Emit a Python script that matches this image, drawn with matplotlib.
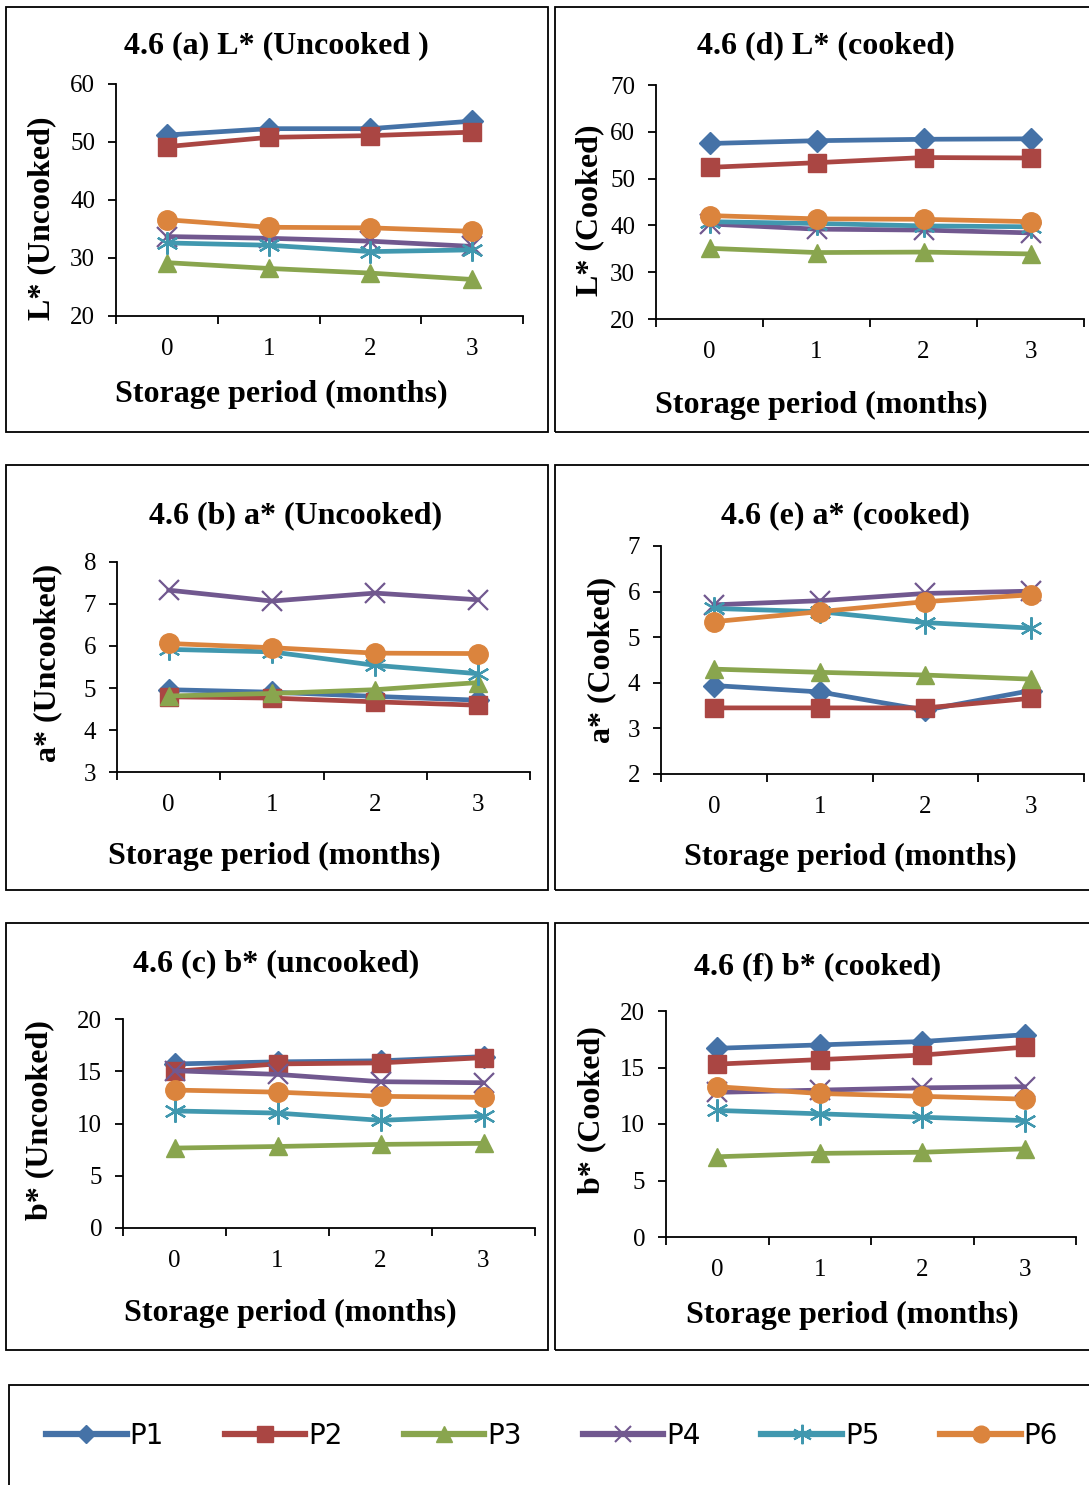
import numpy as np
import matplotlib
matplotlib.use("Agg")
import matplotlib.pyplot as plt
from matplotlib.patches import Rectangle
from matplotlib.lines import Line2D

# storage period (months)
months = [0, 1, 2, 3]
series = ["P1", "P2", "P3", "P4", "P5", "P6"]

# 4.6 (a) L* uncooked
L_unc = {
    "P1": [51.2, 52.3, 52.3, 53.6],
    "P2": [49.2, 50.8, 51.1, 51.7],
    "P3": [29.2, 28.2, 27.4, 26.3],
    "P4": [33.7, 33.4, 32.9, 32.0],
    "P5": [32.6, 32.2, 31.1, 31.4],
    "P6": [36.6, 35.3, 35.2, 34.6],
}
# 4.6 (b) a* uncooked
a_unc = {
    "P1": [4.96, 4.90, 4.80, 4.71],
    "P2": [4.79, 4.76, 4.67, 4.59],
    "P3": [4.81, 4.87, 4.96, 5.13],
    "P4": [7.33, 7.07, 7.26, 7.10],
    "P5": [5.92, 5.86, 5.54, 5.34],
    "P6": [6.06, 5.96, 5.83, 5.82],
}
# 4.6 (c) b* uncooked
b_unc = {
    "P1": [15.7, 15.9, 16.0, 16.4],
    "P2": [15.0, 15.7, 15.8, 16.3],
    "P3": [7.65, 7.8, 8.0, 8.1],
    "P4": [15.05, 14.7, 14.0, 13.9],
    "P5": [11.2, 11.0, 10.3, 10.7],
    "P6": [13.2, 13.0, 12.6, 12.5],
}
# 4.6 (d) L* cooked
L_ck = {
    "P1": [57.5, 58.1, 58.4, 58.5],
    "P2": [52.4, 53.4, 54.5, 54.4],
    "P3": [35.1, 34.2, 34.3, 33.9],
    "P4": [40.3, 39.2, 39.0, 38.4],
    "P5": [40.8, 40.4, 39.9, 39.7],
    "P6": [42.1, 41.4, 41.3, 40.8],
}
# 4.6 (e) a* cooked
a_ck = {
    "P1": [3.94, 3.80, 3.40, 3.83],
    "P2": [3.45, 3.45, 3.45, 3.66],
    "P3": [4.30, 4.23, 4.17, 4.08],
    "P4": [5.71, 5.80, 5.96, 6.01],
    "P5": [5.63, 5.56, 5.32, 5.20],
    "P6": [5.34, 5.56, 5.78, 5.93],
}
# 4.6 (f) b* cooked
b_ck = {
    "P1": [16.7, 17.0, 17.3, 17.9],
    "P2": [15.3, 15.7, 16.1, 16.8],
    "P3": [7.1, 7.4, 7.5, 7.8],
    "P4": [12.8, 13.0, 13.2, 13.3],
    "P5": [11.2, 10.9, 10.6, 10.3],
    "P6": [13.3, 12.7, 12.45, 12.2],
}

colors = {"P1": "#4572A7", "P2": "#AA4643", "P3": "#89A54E",
          "P4": "#71588F", "P5": "#4198AF", "P6": "#DB843D"}
markers = {"P1": "D", "P2": "s", "P3": "^", "P4": "x", "P5": (6, 2, 0), "P6": "o"}
msizes = {"P1": 11, "P2": 13, "P3": 13, "P4": 14, "P5": 16, "P6": 14}

W, H = 1089, 1485
fig = plt.figure(figsize=(W / 100, H / 100), dpi=100)
SERIF = "Liberation Serif"


def fx(x):
    return x / W


def fy(y):
    return 1 - y / H


# panel: data, ylim, yticks, axes px (left, right, top, bottom), box, title, ylabel, text positions
panels = [
    (L_unc, (20, 60), [20, 30, 40, 50, 60], (116, 523, 84, 316), (6, 7, 548, 432),
     "4.6 (a) L* (Uncooked )", "L* (Uncooked)", (276, 46), (281, 394), (42, 218)),
    (L_ck, (20, 70), [20, 30, 40, 50, 60, 70], (656, 1084, 85, 319), (555, 7, 1100, 432),
     "4.6 (d) L* (cooked)", "L* (Cooked)", (826, 46), (821, 405), (590, 210)),
    (a_unc, (3, 8), [3, 4, 5, 6, 7, 8], (117, 530, 562, 772), (6, 465, 548, 890),
     "4.6 (b) a* (Uncooked)", "a* (Uncooked)", (296, 516), (274, 856), (48, 663)),
    (a_ck, (2, 7), [2, 3, 4, 5, 6, 7], (661, 1084, 546, 774), (555, 465, 1100, 890),
     "4.6 (e) a* (cooked)", "a* (Cooked)", (845, 516), (850, 857), (602, 660)),
    (b_unc, (0, 20), [0, 5, 10, 15, 20], (123, 535, 1019, 1228), (6, 923, 548, 1350),
     "4.6 (c) b* (uncooked)", "b* (Uncooked)", (276, 964), (290, 1313), (40, 1120)),
    (b_ck, (0, 20), [0, 5, 10, 15, 20], (666, 1076, 1011, 1237), (555, 923, 1100, 1350),
     "4.6 (f) b* (cooked)", "b* (Cooked)", (818, 967), (852, 1315), (592, 1110)),
]

for data, ylim, yticks, (l, r, t, b), (bx0, by0, bx1, by1), title, ylab, tpos, xlpos, ylpos in panels:
    fig.patches.append(Rectangle((fx(bx0), fy(by1)), fx(bx1 - bx0), (by1 - by0) / H,
                                 transform=fig.transFigure, fill=False,
                                 edgecolor="black", linewidth=1.3))
    ax = fig.add_axes([fx(l), fy(b), fx(r - l), (b - t) / H])
    for s in series:
        ax.plot(months, data[s], color=colors[s], marker=markers[s], markersize=msizes[s],
                markeredgewidth=1.6 if s in ("P4", "P5") else 1, lw=3.4, solid_capstyle="round")
    ax.set_xlim(-0.5, 3.5)
    ax.set_ylim(*ylim)
    ax.set_yticks(yticks)
    ax.set_xticks(months)
    ax.set_xticks([-0.5, 0.5, 1.5, 2.5, 3.5], minor=True)
    ax.tick_params(axis="x", which="major", length=0, pad=16, labelsize=18)
    ax.tick_params(axis="x", which="minor", length=6, width=1.3, direction="out")
    ax.tick_params(axis="y", length=6, width=1.3, direction="out", pad=9, labelsize=18)
    for lab in ax.get_xticklabels() + ax.get_yticklabels():
        lab.set_family(SERIF)
    for sp in ["top", "right"]:
        ax.spines[sp].set_visible(False)
    for sp in ["left", "bottom"]:
        ax.spines[sp].set_linewidth(1.3)
    ax.patch.set_alpha(0)
    fig.text(fx(tpos[0]), fy(tpos[1]), title, ha="center", va="center",
             family=SERIF, weight="bold", fontsize=23)
    fig.text(fx(xlpos[0]), fy(xlpos[1]), "Storage period (months)", ha="center", va="center",
             family=SERIF, weight="bold", fontsize=23)
    fig.text(fx(ylpos[0]), fy(ylpos[1]), ylab, ha="center", va="center", rotation=90,
             family=SERIF, weight="bold", fontsize=23)

# legend box
fig.patches.append(Rectangle((fx(9), fy(1500)), fx(1100), 115 / H,
                             transform=fig.transFigure, fill=False,
                             edgecolor="black", linewidth=1.3))
handles = [Line2D([], [], color=colors[s], marker=markers[s], markersize=msizes[s] - 2,
                  markeredgewidth=1.5 if s in ("P4", "P5") else 1, lw=4.5) for s in series]
fig.legend(handles, series, loc="center", bbox_to_anchor=(fx(552), fy(1436)), ncol=6,
           frameon=False, handlelength=2.9, handletextpad=0.1, columnspacing=2.2,
           prop={"family": ["Liberation Sans Narrow", "DejaVu Sans"], "size": 20})

fig.savefig("out.png", dpi=100)
